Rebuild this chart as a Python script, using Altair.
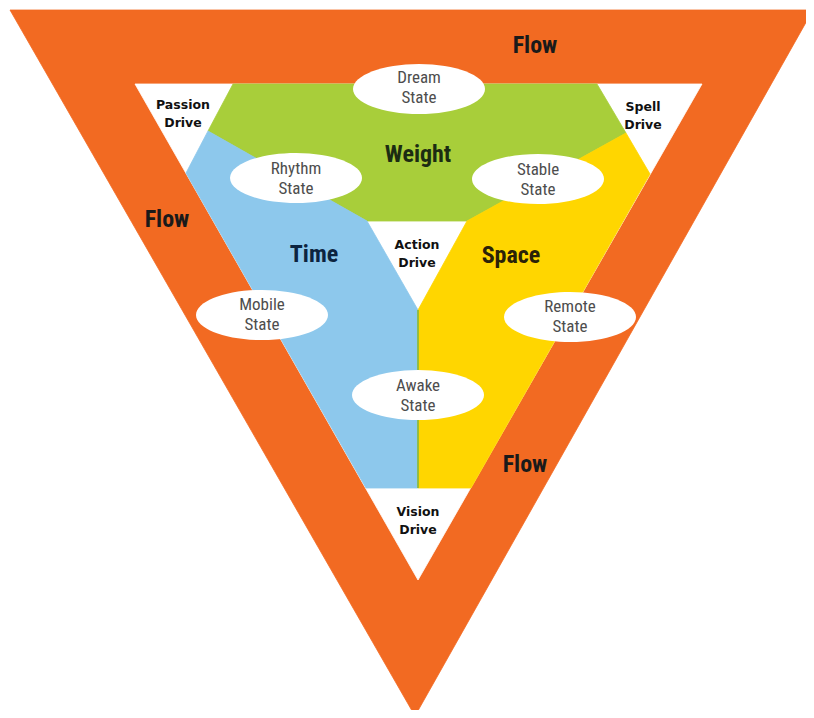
import altair as alt

# ---- diagram geometry (image pixel coordinates) ----
OUTER = [[10, 10], [813, 10], [415, 716]]
INNER = [[135, 84], [702, 84], [418, 580]]
WEIGHT = [[233, 84], [597, 84], [626, 133], [467, 221], [367, 221], [208, 131]]
TIME = [[208, 131], [367, 221], [418, 310], [418, 488], [366, 488], [186, 173]]
SPACE = [[626, 133], [467, 221], [418, 310], [418, 488], [471, 488], [650, 174]]
DIVIDER = [[418, 310], [418, 488]]

REGION_NAMES = ["Outer", "Inner", "Weight", "Time", "Space"]
REGION_FILLS = ["#F26A22", "#FFFFFF", "#A8CE3A", "#8DC8EC", "#FFD600"]
REGION_SHAPES = [OUTER, INNER, WEIGHT, TIME, SPACE]

# states (ellipses); text y = first line
STATE_LABELS = ["Dream\nState", "Rhythm\nState", "Stable\nState",
                "Mobile\nState", "Remote\nState", "Awake\nState"]
STATE_X = [419, 296, 538, 262, 570, 418]
STATE_Y = [89, 178, 179, 315, 317, 395]
STATE_TEXT_Y = [78, 169, 170, 305, 307, 386]

# drives; y = first line
DRIVE_LABELS = ["Passion\nDrive", "Spell\nDrive", "Action\nDrive", "Vision\nDrive"]
DRIVE_X = [183, 643, 417, 418]
DRIVE_Y = [105, 107, 245, 512]

# elements
ELEMENT_LABELS = ["Weight", "Time", "Space"]
ELEMENT_X = [418, 314, 511]
ELEMENT_Y = [155, 255, 256]
ELEMENT_COLORS = ["#1C2C12", "#0C2440", "#2A2208"]

FLOW_LABELS = ["Flow", "Flow", "Flow"]
FLOW_X = [535, 167, 525]
FLOW_Y = [46, 220, 465]


def polygon(name, coords, fill):
    ring = [list(c) for c in coords] + [list(coords[0])]
    return {"type": "Feature",
            "properties": {"name": name, "fill": fill},
            "geometry": {"type": "Polygon", "coordinates": [ring]}}


features = [polygon(n, s, f) for n, s, f in zip(REGION_NAMES, REGION_SHAPES, REGION_FILLS)]
divider = [{"type": "Feature", "properties": {"name": "divider"},
            "geometry": {"type": "LineString", "coordinates": DIVIDER}}]

states = [{"label": l, "x": x, "y": y, "ty": ty}
          for l, x, y, ty in zip(STATE_LABELS, STATE_X, STATE_Y, STATE_TEXT_Y)]
drives = [{"label": l, "x": x, "y": y} for l, x, y in zip(DRIVE_LABELS, DRIVE_X, DRIVE_Y)]
elements = [{"label": l, "x": x, "y": y, "c": c}
            for l, x, y, c in zip(ELEMENT_LABELS, ELEMENT_X, ELEMENT_Y, ELEMENT_COLORS)]
flows = [{"label": l, "x": x, "y": y} for l, x, y in zip(FLOW_LABELS, FLOW_X, FLOW_Y)]

proj = dict(type="identity", scale=1, translate=[-8, -8])

shapes = alt.Chart(alt.Data(values=features)).mark_geoshape(strokeWidth=0.8).encode(
    fill=alt.Fill("properties.fill:N", scale=None),
    stroke=alt.Stroke("properties.fill:N", scale=None),
).project(**proj)

line = alt.Chart(alt.Data(values=divider)).mark_geoshape(
    filled=False, stroke="#7DB540", strokeWidth=1.5
).project(**proj)

ELLIPSE = "M -1 0 A 1 0.38 0 1 1 1 0 A 1 0.38 0 1 1 -1 0 Z"
ellipses = alt.Chart(alt.Data(values=states)).mark_point(
    shape=ELLIPSE, size=132 * 132, filled=True, fill="white", opacity=1, strokeWidth=0
).encode(longitude="x:Q", latitude="y:Q").project(**proj)

NARROW = "Liberation Sans Narrow, Roboto Condensed, Roboto"

state_text = alt.Chart(alt.Data(values=states)).mark_text(
    lineBreak="\n", lineHeight=20, fontSize=17, font=NARROW,
    color="#4D4D4D", align="center", baseline="middle"
).encode(longitude="x:Q", latitude="ty:Q", text="label:N").project(**proj)

drive_text = alt.Chart(alt.Data(values=drives)).mark_text(
    lineBreak="\n", lineHeight=18, fontSize=12.5, font="DejaVu Sans", fontWeight="bold",
    color="#111111", align="center", baseline="middle"
).encode(longitude="x:Q", latitude="y:Q", text="label:N").project(**proj)

element_text = alt.Chart(alt.Data(values=elements)).mark_text(
    fontSize=24, font=NARROW, fontWeight="bold",
    align="center", baseline="middle"
).encode(longitude="x:Q", latitude="y:Q", text="label:N",
         color=alt.Color("c:N", scale=None)).project(**proj)

flow_text = alt.Chart(alt.Data(values=flows)).mark_text(
    fontSize=24, font=NARROW, fontWeight="bold",
    color="#1A1A1A", align="center", baseline="middle"
).encode(longitude="x:Q", latitude="y:Q", text="label:N").project(**proj)

chart = alt.layer(shapes, line, ellipses, state_text, drive_text, element_text, flow_text).properties(
    width=798, height=702, padding=0, background="white", autosize="none"
).configure_view(stroke=None)

chart.save("out.html", embed_options={"renderer": "svg", "actions": False})
